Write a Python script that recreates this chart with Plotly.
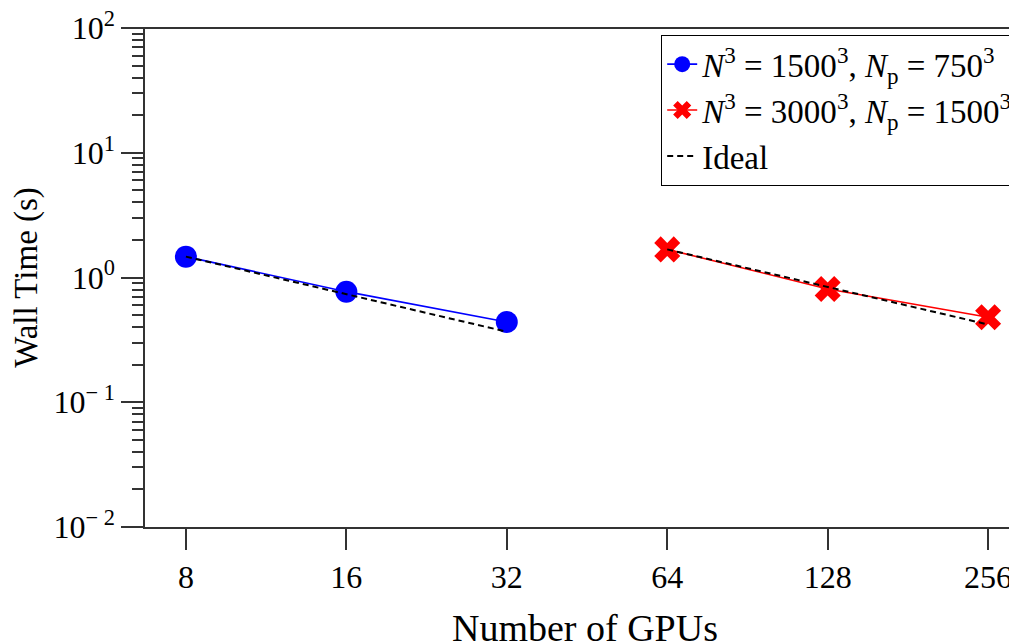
import numpy as np
import plotly.graph_objects as go

gpus_a = [8, 16, 32]
time_a = [1.47, 0.77, 0.44]
gpus_b = [64, 128, 256]
time_b = [1.68, 0.81, 0.48]
ideal_a = [1.47, 0.735, 0.3675]
ideal_b = [1.68, 0.84, 0.42]

x_ticks = [8, 16, 32, 64, 128, 256]
y_ticks = [1e-2, 1e-1, 1e0, 1e1, 1e2]
y_ticktext = ["10<sup>\u2212 2</sup>", "10<sup>\u2212 1</sup>", "10<sup>0</sup>",
              "10<sup>1</sup>", "10<sup>2</sup>"]

label_a = "<i>N</i><sup>3</sup> = 1500<sup>3</sup>, <i>N</i><sub>p</sub> = 750<sup>3</sup>"
label_b = "<i>N</i><sup>3</sup> = 3000<sup>3</sup>, <i>N</i><sub>p</sub> = 1500<sup>3</sup>"

FONT = "Liberation Serif"
AX = "#333333"

fig = go.Figure()
fig.add_trace(go.Scatter(x=gpus_a, y=time_a, mode="lines+markers", name=label_a,
                         line=dict(color="#0000ff", width=1.6),
                         marker=dict(symbol="circle", size=22, color="#0000ff")))
fig.add_trace(go.Scatter(x=gpus_b, y=time_b, mode="lines+markers", name=label_b,
                         line=dict(color="#ff0000", width=1.6),
                         marker=dict(symbol="x", size=23, color="#ff0000")))
fig.add_trace(go.Scatter(x=gpus_a, y=ideal_a, mode="lines", name="Ideal",
                         legendgroup="ideal",
                         line=dict(color="black", width=2, dash="6px,4px")))
fig.add_trace(go.Scatter(x=gpus_b, y=ideal_b, mode="lines", name="Ideal",
                         legendgroup="ideal", showlegend=False,
                         line=dict(color="black", width=2, dash="6px,4px")))

xl = np.log10(2 ** 2.745)
xr = np.log10(2 ** 8.23)

L, T, B, R = 137, 20, 124, 0
W, H = 1017, 643
pw = W - L - R
ph = H - T - B

# top frame line of the plot area (starts at the end of the 10^2 major tick)
fig.add_shape(type="line", xref="paper", yref="paper", x0=-22 / pw, x1=1, y0=1, y1=1,
              line=dict(color=AX, width=2), layer="above")

fig.update_layout(
    width=W, height=H,
    margin=dict(l=L, r=R, t=T, b=B, autoexpand=False),
    paper_bgcolor="white", plot_bgcolor="white",
    font=dict(family=FONT, size=32, color="black"),
    showlegend=True,
    legend=dict(x=(653 - L) / pw, xanchor="left", y=1 - 7 / ph, yanchor="top",
                bordercolor="black", borderwidth=1.2, bgcolor="white",
                font=dict(family=FONT, size=33), tracegroupgap=0,
                itemwidth=30),
    xaxis=dict(type="log", range=[xl, xr], tickvals=x_ticks, ticktext=[str(v) for v in x_ticks],
               ticks="outside", ticklen=21, tickwidth=1.5, tickcolor=AX,
               showline=True, linecolor=AX, linewidth=1.5, mirror=False,
               showgrid=False, zeroline=False, automargin=False,
               ticklabeloverflow="allow",
               title=dict(text="Number of GPUs", standoff=20)),
    yaxis=dict(type="log", range=[-2, 2], tickvals=y_ticks, ticktext=y_ticktext,
               ticks="outside", ticklen=22, tickwidth=1.5, tickcolor=AX,
               showline=True, linecolor=AX, linewidth=1.5, mirror=False,
               showgrid=False, zeroline=False, automargin=False,
               ticklabeloverflow="allow",
               minor=dict(ticks="outside", ticklen=11, tickwidth=1.5, tickcolor=AX,
                          dtick="D1", showgrid=False),
               title=dict(text="Wall Time (s)", standoff=18, font=dict(size=33))),
)

fig.write_html("out.html")
